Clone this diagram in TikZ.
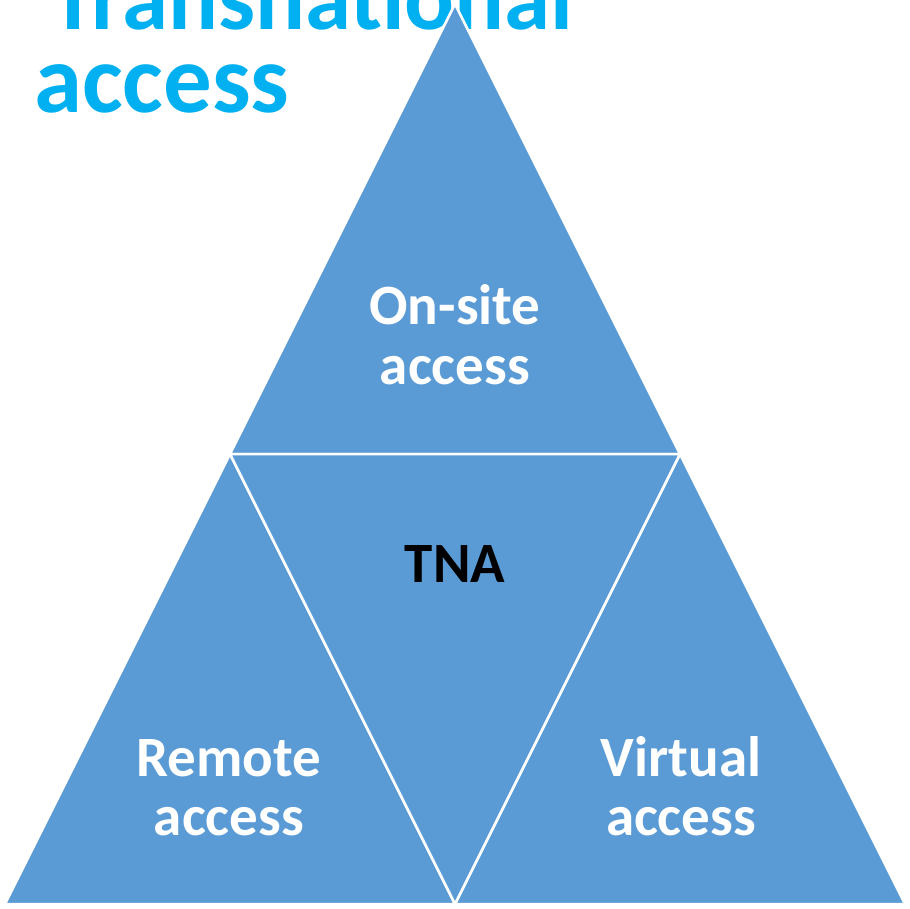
\documentclass[tikz,border=0pt]{standalone}
\usepackage{fontspec}
\setmainfont{Carlito}
\definecolor{tblue}{HTML}{5B9BD5}
\definecolor{tcyan}{HTML}{00B0F0}
\begin{document}
\begin{tikzpicture}[x=1pt,y=-1pt,
  tri/.style={fill=tblue,draw=white,line width=2.5pt,line join=miter},
  title/.style={font=\fontsize{97}{97}\selectfont\bfseries,text=tcyan,inner sep=0pt,anchor=base west},
  lbl/.style={font=\fontsize{57}{57}\selectfont\bfseries,text=white,inner sep=0pt,anchor=base},
  lblk/.style={lbl,text=black}]
\useasboundingbox (0,0) rectangle (910,909);
\node[title,font=\fontsize{93}{93}\selectfont\bfseries] (t1) at (50,30) {Transnational};
\node[title] (t2) at (34,113) {access};
\coordinate (A) at (455,4);
\coordinate (B) at (5,904);
\coordinate (C) at (905,904);
\coordinate (L) at (230,454);
\coordinate (R) at (680,454);
\coordinate (M) at (455,904);
\path[tri] (A) -- (L) -- (R) -- cycle;
\path[tri] (L) -- (B) -- (M) -- cycle;
\path[tri] (R) -- (M) -- (C) -- cycle;
\path[tri] (L) -- (R) -- (M) -- cycle;
\node[lbl] (on1) at (455,324) {On-site};
\node[lbl] (on2) at (455,384) {access};
\node[lblk] (tna) at (455,582) {TNA};
\node[lbl] (re1) at (229,776) {Remote};
\node[lbl] (re2) at (229,835) {access};
\node[lbl] (vi1) at (681,776) {Virtual};
\node[lbl] (vi2) at (681,835) {access};
\end{tikzpicture}
\end{document}
